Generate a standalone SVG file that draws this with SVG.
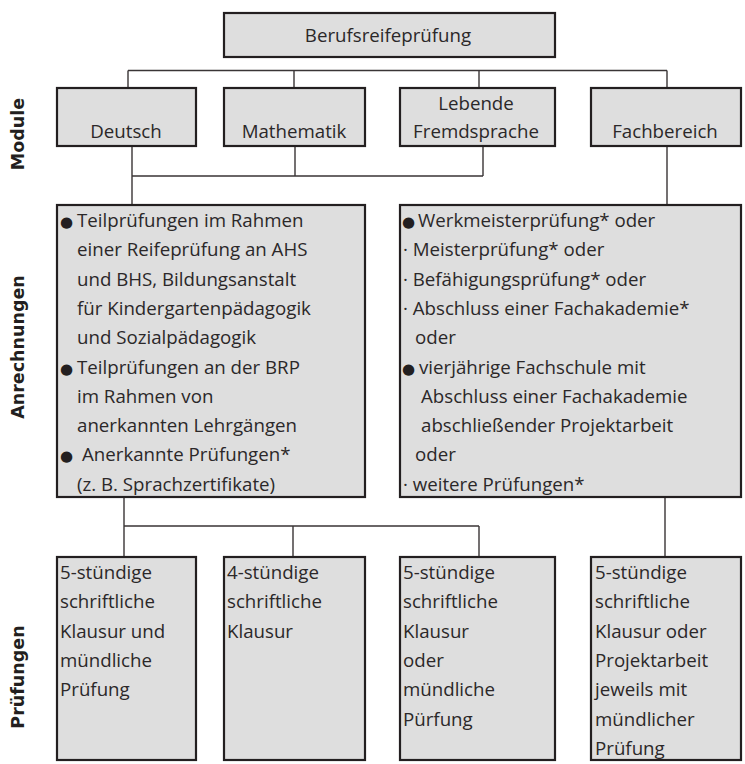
<svg xmlns="http://www.w3.org/2000/svg" width="745" height="764" viewBox="0 0 745 764">
<style>
.box{fill:#dedede;stroke:#231f20;stroke-width:2.2}
.t{font-family:"Open Sans","Liberation Sans",sans-serif;font-size:18.7px;fill:#2b2829}
.c{text-anchor:middle}
.b{font-family:"DejaVu Sans",sans-serif;font-size:15px;fill:#231f20}
.side{font-family:"DejaVu Sans",sans-serif;font-weight:bold;font-size:17.5px;fill:#231f20;text-anchor:middle}
.con{fill:none;stroke:#3a3536;stroke-width:1.4}
</style>
<rect width="745" height="764" fill="#ffffff"/>
<g id="labels">
<text class="side" transform="translate(23.5,134) rotate(-90)">Module</text>
<text class="side" transform="translate(23.5,347) rotate(-90)">Anrechnungen</text>
<text class="side" transform="translate(23.5,677) rotate(-90)">Prüfungen</text>
</g>
<g id="connectors">
<path class="con" d="M128,70.5H667M128,70.5V88M294,70.5V88M479,70.5V88M667,70.5V88"/>
<path class="con" d="M132,146V205M295,146V176M483,146V176M132,176H483M667,146V205"/>
<path class="con" d="M124,497V557M124,526H479M293,526V557M479,526V557M665,497V557"/>
</g>
<g id="top">
<rect class="box" x="224" y="13" width="331" height="44"/>
<text class="t c" x="388" y="42">Berufsreifeprüfung</text>
</g>
<g id="m-deutsch">
<rect class="box" x="57" y="88" width="139" height="58"/>
<text class="t c" x="126" y="138">Deutsch</text>
</g>
<g id="m-mathe">
<rect class="box" x="224" y="88" width="141" height="58"/>
<text class="t c" x="294" y="138">Mathematik</text>
</g>
<g id="m-fremd">
<rect class="box" x="400" y="88" width="155" height="58"/>
<text class="t c" x="476" y="110">Lebende</text>
<text class="t c" x="476" y="138">Fremdsprache</text>
</g>
<g id="m-fach">
<rect class="box" x="591" y="88" width="150" height="58"/>
<text class="t c" x="665" y="138">Fachbereich</text>
</g>
<g id="a-left">
<rect class="box" x="57" y="205" width="308" height="292"/>
<text class="b" x="60" y="227">●</text>
<text class="t" x="77" y="227">Teilprüfungen im Rahmen</text>
<text class="t" x="77" y="256.3">einer Reifeprüfung an AHS</text>
<text class="t" x="77" y="285.6">und BHS, Bildungsanstalt</text>
<text class="t" x="77" y="314.9">für Kindergartenpädagogik</text>
<text class="t" x="77" y="344.2">und Sozialpädagogik</text>
<text class="b" x="60" y="373.5">●</text>
<text class="t" x="77" y="373.5">Teilprüfungen an der BRP</text>
<text class="t" x="77" y="402.8">im Rahmen von</text>
<text class="t" x="77" y="432.1">anerkannten Lehrgängen</text>
<text class="b" x="60" y="461.4">●</text>
<text class="t" x="82" y="461.4">Anerkannte Prüfungen*</text>
<text class="t" x="77" y="490.7">(z. B. Sprachzertifikate)</text>
</g>
<g id="a-right">
<rect class="box" x="400" y="205" width="341" height="292"/>
<text class="b" x="402" y="227">●</text>
<text class="t" x="418" y="227">Werkmeisterprüfung* oder</text>
<text class="t" x="403" y="256.3">· Meisterprüfung* oder</text>
<text class="t" x="403" y="285.6">· Befähigungsprüfung* oder</text>
<text class="t" x="403" y="314.9">· Abschluss einer Fachakademie*</text>
<text class="t" x="415" y="344.2">oder</text>
<text class="b" x="402" y="373.5">●</text>
<text class="t" x="419" y="373.5">vierjährige Fachschule mit</text>
<text class="t" x="421" y="402.8">Abschluss einer Fachakademie</text>
<text class="t" x="421" y="432.1">abschließender Projektarbeit</text>
<text class="t" x="415" y="461.4">oder</text>
<text class="t" x="403" y="490.7">· weitere Prüfungen*</text>
</g>
<g id="p-deutsch">
<rect class="box" x="57" y="557" width="139" height="203"/>
<text class="t" x="60" y="579">5-stündige</text>
<text class="t" x="60" y="608.3">schriftliche</text>
<text class="t" x="60" y="637.6">Klausur und</text>
<text class="t" x="60" y="666.9">mündliche</text>
<text class="t" x="60" y="696.2">Prüfung</text>
</g>
<g id="p-mathe">
<rect class="box" x="224" y="557" width="141" height="203"/>
<text class="t" x="227" y="579">4-stündige</text>
<text class="t" x="227" y="608.3">schriftliche</text>
<text class="t" x="227" y="637.6">Klausur</text>
</g>
<g id="p-fremd">
<rect class="box" x="400" y="557" width="155" height="203"/>
<text class="t" x="403" y="579">5-stündige</text>
<text class="t" x="403" y="608.3">schriftliche</text>
<text class="t" x="403" y="637.6">Klausur</text>
<text class="t" x="403" y="666.9">oder</text>
<text class="t" x="403" y="696.2">mündliche</text>
<text class="t" x="403" y="725.5">Pürfung</text>
</g>
<g id="p-fach">
<rect class="box" x="591" y="557" width="150" height="203"/>
<text class="t" x="595" y="579">5-stündige</text>
<text class="t" x="595" y="608.3">schriftliche</text>
<text class="t" x="595" y="637.6">Klausur oder</text>
<text class="t" x="595" y="666.9">Projektarbeit</text>
<text class="t" x="595" y="696.2">jeweils mit</text>
<text class="t" x="595" y="725.5">mündlicher</text>
<text class="t" x="595" y="754.8">Prüfung</text>
</g>
</svg>
